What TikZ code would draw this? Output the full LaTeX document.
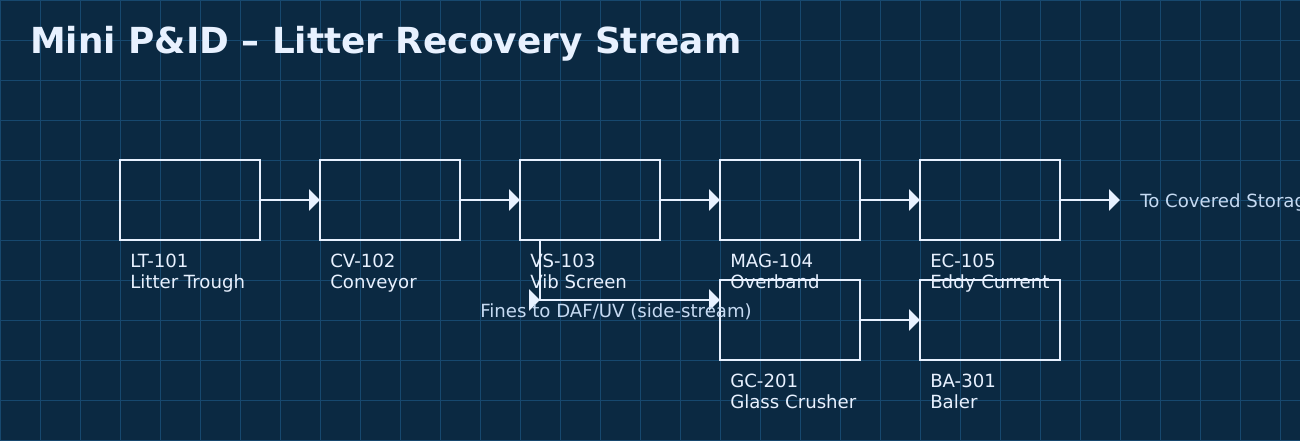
\documentclass[tikz,border=0pt]{standalone}
\usepackage{fontspec}
\setmainfont{DejaVu Sans}
\usetikzlibrary{arrows.meta,calc}
\definecolor{bgNavy}{HTML}{0B2942}
\definecolor{gridBlue}{HTML}{17486E}
\definecolor{lineWhite}{HTML}{E8F1FF}
\definecolor{noteBlue}{HTML}{C6DAF2}
\begin{document}
\begin{tikzpicture}[x=0.025cm, y=-0.025cm,
            unit/.style={rectangle, draw=lineWhite, line width=1.9pt, minimum width=3.5cm, minimum height=2cm, outer sep=0pt, inner sep=0pt},
            tag/.style={anchor=north west, inner sep=0pt, align=left, text=lineWhite, font=\fontsize{12.9}{15}\selectfont},
            note/.style={anchor=base west, inner sep=0pt, text=noteBlue, font=\fontsize{12.9}{15}\selectfont},
            flow/.style={draw=lineWhite, line width=1.9pt, -{Triangle[length=7.8pt,width=15pt]}}]

            % background and grid
            \fill[bgNavy] (0,0) rectangle (1300,440);
            \useasboundingbox (0,0) rectangle (1300,440);
            \clip (0,0) rectangle (1300,440);
            \foreach \gx in {0,40,...,1280} \draw[gridBlue, line width=0.7pt] (\gx,0) -- (\gx,440);
            \foreach \gy in {0,40,...,440} \draw[gridBlue, line width=0.7pt] (0,\gy) -- (1300,\gy);

            \node[anchor=base west, inner sep=0pt, text=lineWhite, font=\fontsize{25.5}{30}\selectfont\bfseries] (title) at (30,54) {Mini P\&ID – Litter Recovery Stream};

            \node[unit] (LT) at (190,200) {};
            \node[unit] (CV) at (390,200) {};
            \node[unit] (VS) at (590,200) {};
            \node[unit] (MAG) at (790,200) {};
            \node[unit] (EC) at (990,200) {};
            \node[unit] (GC) at (790,320) {};
            \node[unit] (BA) at (990,320) {};

            \node[tag] (LTtag) at ($(LT.south west)+(10,14)$) {LT-101\\Litter Trough};
            \node[tag] (CVtag) at ($(CV.south west)+(10,14)$) {CV-102\\Conveyor};
            \node[tag] (VStag) at ($(VS.south west)+(10,14)$) {VS-103\\Vib Screen};
            \node[tag] (MAGtag) at ($(MAG.south west)+(10,14)$) {MAG-104\\Overband};
            \node[tag] (ECtag) at ($(EC.south west)+(10,14)$) {EC-105\\Eddy Current};
            \node[tag] (GCtag) at ($(GC.south west)+(10,14)$) {GC-201\\Glass Crusher};
            \node[tag] (BAtag) at ($(BA.south west)+(10,14)$) {BA-301\\Baler};

            \coordinate (store) at (1120,200);
            \coordinate (fines) at (540,300);
            \coordinate (GCin) at ($(GC.north west)+(0,20)$);

            \draw[flow] (LT) -- (CV);
            \draw[flow] (CV) -- (VS);
            \draw[flow] (VS) -- (MAG);
            \draw[flow] (MAG) -- (EC);
            \draw[flow] (EC) -- (store);
            \draw[flow] (GC) -- (BA);

            % side-stream off the screen
            \draw[flow] ($(VS.south west)+(20,0)$) |- (GCin);
            \draw[flow] ($(fines)+(-1,0)$) -- (fines);

            \node[note] (storeTxt) at ($(store)+(20,7)$) {To Covered Storage};
            \node[note] (finesTxt) at ($(fines)+(-60,17)$) {Fines to DAF/UV (side-stream)};

        \end{tikzpicture}
\end{document}
